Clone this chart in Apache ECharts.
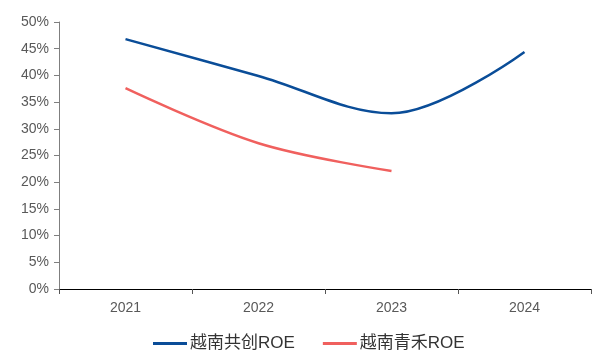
<!DOCTYPE html>
<html>
<head>
<meta charset="utf-8">
<script src="https://cdn.jsdelivr.net/npm/echarts@6/dist/echarts.min.js"></script>
<style>
  html, body { margin: 0; padding: 0; background: #fff; }
  #chart { width: 592px; height: 352px; }
</style>
</head>
<body>
<div id="chart"></div>
<script>
// Years on the category axis
var years = ['2021', '2022', '2023', '2024'];
// ROE in percent
var gongchuangROE = [46.8, 39.9, 32.9, 44.4];
var qingheROE = [37.6, 27.3, 22.1, null];
var seriesNames = ['越南共创ROE', '越南青禾ROE'];

var chart = echarts.init(document.getElementById('chart'));
var fontFamily = 'Liberation Sans, Arial, "Noto Sans CJK SC", sans-serif';

chart.setOption({
  animation: false,
  grid: { left: 59, right: 1, top: 22, bottom: 63, containLabel: false },
  legend: {
    top: 330,
    left: 148,
    itemWidth: 34,
    itemHeight: 3,
    itemGap: 28,
    icon: 'rect',
    textStyle: { fontSize: 17, color: '#333', fontFamily: fontFamily, padding: [0, 0, 0, -2] },
    data: seriesNames
  },
  xAxis: {
    type: 'category',
    data: years,
    boundaryGap: true,
    axisLine: { lineStyle: { color: '#000', width: 1 } },
    axisTick: { show: true, length: 5, lineStyle: { color: '#555' } },
    axisLabel: { fontSize: 14, color: '#595959', margin: 12, fontFamily: fontFamily },
    splitLine: { show: false }
  },
  yAxis: {
    type: 'value',
    min: 0,
    max: 50,
    interval: 5,
    axisLine: { show: true, lineStyle: { color: '#7f7f7f', width: 1 } },
    axisTick: { show: true, length: 5, lineStyle: { color: '#7f7f7f' } },
    axisLabel: { fontSize: 14, color: '#595959', margin: 10, formatter: '{value}%', fontFamily: fontFamily },
    splitLine: { show: false }
  },
  series: [
    {
      name: seriesNames[0],
      type: 'line',
      data: gongchuangROE,
      smooth: 0.35,
      symbol: 'none',
      lineStyle: { color: '#0a4d98', width: 2.5 },
      itemStyle: { color: '#0a4d98' }
    },
    {
      name: seriesNames[1],
      type: 'line',
      data: qingheROE,
      smooth: 0.35,
      symbol: 'none',
      lineStyle: { color: '#f0605e', width: 2.5 },
      itemStyle: { color: '#f0605e' }
    }
  ]
});
</script>
</body>
</html>
